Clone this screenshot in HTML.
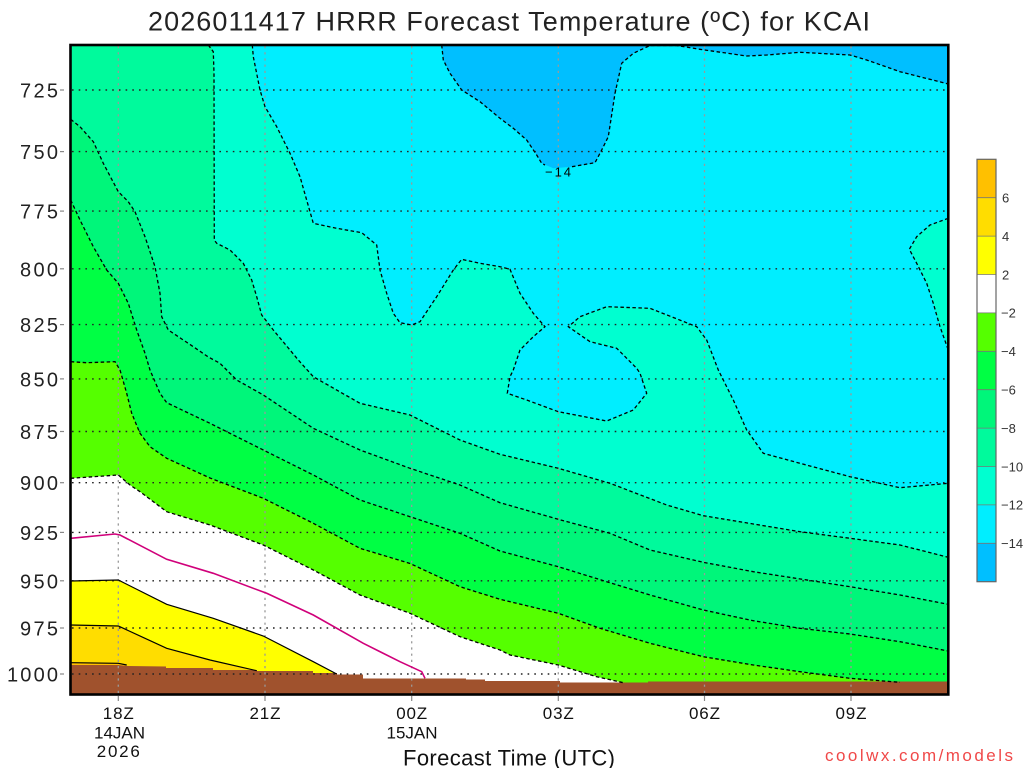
<!DOCTYPE html>
<html><head><meta charset="utf-8"><style>
html,body{margin:0;padding:0;background:#fff;}
svg{display:block;}
text{font-family:"Liberation Sans",sans-serif;}
</style></head><body>
<svg width="1024" height="768" viewBox="0 0 1024 768" xmlns="http://www.w3.org/2000/svg">
<rect x="0" y="0" width="1024" height="768" fill="#fff"/>
<defs><clipPath id="pc"><rect x="70" y="45" width="878.3" height="649"/></clipPath></defs>
<g clip-path="url(#pc)">
<!-- base cyan (-14..-12) -->
<rect x="70" y="45" width="880" height="650" fill="#00EEFF"/>
<!-- blue < -14 -->
<polygon fill="#00BFFF" points="441.7,45 443.3,60 450,73.3 461.7,90 480,101.7 500,118.3 513.3,128.3 526.7,140 536.7,155 541.7,163.3 553.3,168.3 571.7,166.7 595,162.7 601.7,150 608.3,136.7 615,93.3 621.7,63.3 633.3,53.3 650,45"/>
<polygon fill="#00BFFF" points="676.7,45 700,49.3 746.7,56 766.7,55 800,52.3 850,55 866.7,60 900,71.7 948.3,84 950,84 950,40 676.7,40"/>
<!-- teal -12..-10 -->
<polygon fill="#00FFD0" points="252.3,40 253.3,56.7 260,90 265,106.7 276.7,126.7 290,153.3 300,176.7 313.3,223.3 336.7,228.3 361.7,232.7 376.7,245 380,270 386.7,293.3 393.3,313.3 400,322.7 411.7,325 420,321.7 436.7,296.7 453.3,270 461.7,259.3 480,263.3 500,266.7 510,269.3 520,293.3 533.3,313.3 545,326.7 556,327.5 568.3,326.7 580,316.7 606.7,306.7 650,308.3 696.7,326.7 706.7,340 718.3,370 733.3,400 746.7,430 763.3,453.3 800,463.3 850,476.7 900,487.7 950,483.3 950,700 60,700 60,40"/>
<!-- cyan island loop -->
<polygon fill="#00EEFF" points="545,326.7 533.3,336.7 520,350 513.3,370 510,376.7 507.3,393.3 526.7,400 558.3,411.7 606.7,421 633.3,410 646.7,393.3 640,373.3 636.7,368.3 616.7,348.3 590,341.7 568.3,326.7 556,328.5"/>
<!-- right teal blob -->
<polygon fill="#00FFD0" points="950,218.3 930,225 916.7,236.7 909.3,249.3 916.7,263.3 926.7,283.3 933.3,303.3 940,326.7 950,352"/>
<!-- -10..-8 -->
<polygon fill="#00FA9C" points="208.3,40 213.3,51.7 214,73 214.3,240 216.7,243.3 230,250 243.3,263.3 251.7,280 256.7,296.7 261.7,315 273.3,330 290,350 298.3,360 313.3,376.7 360,403.3 410,415 460,440 500,454.3 558.3,468.3 610,483.3 666.7,505 703.3,515.7 800,531.7 850,538.3 900,545 950,557.3 950,700 60,700 60,40"/>
<!-- -8..-6 -->
<polygon fill="#00F67A" points="70.7,119.3 80,126.7 93.3,141.7 103.3,163.3 118.3,191.7 128.3,201.7 135,211.7 145,236.7 155,266.7 160,293.3 161.7,316.7 168.3,330 193.3,346.7 208.3,357 220,363.3 236.7,380 263.3,395 313.3,428.3 360,450 410,468.3 460,485 500,502.7 558.3,519.3 610,533.3 650,550 703.3,562.3 753.3,571.7 850,586.7 900,595 950,604.3 950,700 60,700 60,119.3"/>
<!-- -6..-4 -->
<polygon fill="#00FF44" points="70.7,200 80,220 93.3,246.7 106.7,270 118.3,283.3 128.3,303.3 136.7,330 145,353.3 150,370 160,393.3 166.7,402.7 210,423.3 263.3,450 313.3,475 360,500 410,516.7 460,533.3 500,551 558.3,566.7 606.7,581.7 650,595 703.3,610 753.3,620.7 800,628.3 850,634 900,641.7 950,651 950,700 60,700 60,200"/>
<!-- -4..-2 -->
<polygon fill="#55FF00" points="70.7,361.7 86.7,362.7 115,361.7 120,370 126.7,393.3 131.7,413.3 140,433.3 150,446.7 166.7,458.3 210,478 263.3,498.3 313.3,523.3 360,548.3 410,563.5 460,586.7 500,599.3 558.3,613.3 600,628.3 650,643.3 703.3,656.7 753.3,665 800,671.7 850,678.3 900,682.3 900,700 60,700 60,361.7"/>
<!-- white -2..2 -->
<polygon fill="#FFFFFF" points="70.7,478.3 118.3,475 130,485 140,491.7 166.7,511.7 210,525 263.3,545 313.3,570 360,595 410,613.3 460,636.7 500,650 510,655 558.3,665 596.7,676.7 623.3,682.7 623.3,700 60,700 60,478.3"/>
<!-- yellow -->
<polygon fill="#FFFF00" points="70.7,581 118.3,580 166.7,604.3 213.3,618.3 263.3,636 313.3,661.7 336.7,674 336.7,700 60,700 60,581"/>
<!-- gold -->
<polygon fill="#FFDD00" points="70.7,625 118.3,626 166.7,648.3 210,660 256.7,670.7 256.7,700 60,700 60,625"/>
<!-- orange -->
<polygon fill="#FFC000" points="70.7,662.7 118.3,663.3 126.7,665 126.7,700 60,700 60,662.7"/>
<!-- ground -->
<polygon fill="#A0522D" points="60,665 118,665 128,666 166,666.5 166,668 213,668 213,670 257,670 257,671 313,671 313,673 337,673 337,674.5 363,674.5 363,678.5 466,678.5 466,679.5 485,679.5 485,681 560,681 560,682.5 648,682.5 648,681.5 950,681.5 950,700 60,700"/>

<!-- grid: horizontal dotted -->
<g stroke="#222" stroke-width="1.4" stroke-dasharray="1.6 5.1" fill="none">
<line x1="72" y1="90" x2="948" y2="90"/>
<line x1="72" y1="151.6" x2="948" y2="151.6"/>
<line x1="72" y1="211.1" x2="948" y2="211.1"/>
<line x1="72" y1="268.8" x2="948" y2="268.8"/>
<line x1="72" y1="324.6" x2="948" y2="324.6"/>
<line x1="72" y1="378.9" x2="948" y2="378.9"/>
<line x1="72" y1="431.5" x2="948" y2="431.5"/>
<line x1="72" y1="482.7" x2="948" y2="482.7"/>
<line x1="72" y1="532.4" x2="948" y2="532.4"/>
<line x1="72" y1="580.8" x2="948" y2="580.8"/>
<line x1="72" y1="628" x2="948" y2="628"/>
<line x1="72" y1="674" x2="948" y2="674"/>
</g>
<g stroke="#999" stroke-width="1.3" stroke-dasharray="2.2 4" fill="none">
<line x1="118.3" y1="46" x2="118.3" y2="694"/>
<line x1="265" y1="46" x2="265" y2="694"/>
<line x1="411.7" y1="46" x2="411.7" y2="694"/>
<line x1="558.3" y1="46" x2="558.3" y2="694"/>
<line x1="704.5" y1="46" x2="704.5" y2="694"/>
<line x1="851" y1="46" x2="851" y2="694"/>
</g>

<!-- negative contours dashed -->
<g stroke="#000" stroke-width="1.3" stroke-dasharray="3.5 2.5" fill="none">
<polyline points="441.7,45 443.3,60 450,73.3 461.7,90 480,101.7 500,118.3 513.3,128.3 526.7,140 536.7,155 541.7,163.3 545,165"/>
<polyline points="572,166.7 595,162.7 601.7,150 608.3,136.7 615,93.3 621.7,63.3 633.3,53.3 650,45.5 676.7,45.5 700,49.3 746.7,56 766.7,55 800,52.3 850,55 866.7,60 900,71.7 948.3,84"/>
<polyline points="252.3,45 253.3,56.7 260,90 265,106.7 276.7,126.7 290,153.3 300,176.7 313.3,223.3 336.7,228.3 361.7,232.7 376.7,245 380,270 386.7,293.3 393.3,313.3 400,322.7 411.7,325 420,321.7 436.7,296.7 453.3,270 461.7,259.3 480,263.3 500,266.7 510,269.3 520,293.3 533.3,313.3 545,326.7 533.3,336.7 520,350 513.3,370 510,376.7 507.3,393.3 526.7,400 558.3,411.7 606.7,421 633.3,410 646.7,393.3 640,373.3 636.7,368.3 616.7,348.3 590,341.7 568.3,326.7 580,316.7 606.7,306.7 650,308.3 696.7,326.7 706.7,340 718.3,370 733.3,400 746.7,430 763.3,453.3 800,463.3 850,476.7 900,487.7 948.3,483.3"/>
<polyline points="948.3,218.3 930,225 916.7,236.7 909.3,249.3 916.7,263.3 926.7,283.3 933.3,303.3 940,326.7 948.3,350"/>
<polyline points="208.3,45 213.3,51.7 214,73 214.3,240 216.7,243.3 230,250 243.3,263.3 251.7,280 256.7,296.7 261.7,315 273.3,330 290,350 298.3,360 313.3,376.7 360,403.3 410,415 460,440 500,454.3 558.3,468.3 610,483.3 666.7,505 703.3,515.7 800,531.7 850,538.3 900,545 948.3,557.3"/>
<polyline points="70.7,119.3 80,126.7 93.3,141.7 103.3,163.3 118.3,191.7 128.3,201.7 135,211.7 145,236.7 155,266.7 160,293.3 161.7,316.7 168.3,330 193.3,346.7 208.3,357 220,363.3 236.7,380 263.3,395 313.3,428.3 360,450 410,468.3 460,485 500,502.7 558.3,519.3 610,533.3 650,550 703.3,562.3 753.3,571.7 850,586.7 900,595 948.3,604.3"/>
<polyline points="70.7,200 80,220 93.3,246.7 106.7,270 118.3,283.3 128.3,303.3 136.7,330 145,353.3 150,370 160,393.3 166.7,402.7 210,423.3 263.3,450 313.3,475 360,500 410,516.7 460,533.3 500,551 558.3,566.7 606.7,581.7 650,595 703.3,610 753.3,620.7 800,628.3 850,634 900,641.7 948.3,651"/>
<polyline points="70.7,361.7 86.7,362.7 115,361.7 120,370 126.7,393.3 131.7,413.3 140,433.3 150,446.7 166.7,458.3 210,478 263.3,498.3 313.3,523.3 360,548.3 410,563.5 460,586.7 500,599.3 558.3,613.3 600,628.3 650,643.3 703.3,656.7 753.3,665 800,671.7 850,678.3 900,682.3"/>
<polyline points="70.7,478.3 118.3,475 130,485 140,491.7 166.7,511.7 210,525 263.3,545 313.3,570 360,595 410,613.3 460,636.7 500,650 510,655 558.3,665 596.7,676.7 623.3,682.7"/>
</g>
<!-- zero line -->
<polyline fill="none" stroke="#D0007A" stroke-width="1.6" points="70.7,538.3 115,534 120,535 166.7,559.3 213.3,573.3 266.7,593.3 313.3,615 363.3,643.3 400,661.7 421.7,671.7 425,678.3"/>
<!-- positive contours solid -->
<g stroke="#000" stroke-width="1.2" fill="none">
<polyline points="70.7,581 118.3,580 166.7,604.3 213.3,618.3 263.3,636 313.3,661.7 336.7,674"/>
<polyline points="70.7,625 118.3,626 166.7,648.3 210,660 256.7,670.7"/>
<polyline points="70.7,662.7 118.3,663.3 126.7,665"/>
</g>
<text x="545" y="176.5" font-size="13" fill="#000" textLength="26">−14</text>
</g>
<!-- frame -->
<rect x="70.5" y="45" width="877.8" height="649.5" fill="none" stroke="#000" stroke-width="2.6"/>

<!-- y labels -->
<g font-size="20" fill="#222" text-anchor="end">
<text x="58" y="97.5" textLength="38">725</text>
<text x="58" y="159.1" textLength="38">750</text>
<text x="58" y="218.6" textLength="38">775</text>
<text x="58" y="276.3" textLength="38">800</text>
<text x="58" y="332.1" textLength="38">825</text>
<text x="58" y="386.4" textLength="38">850</text>
<text x="58" y="439" textLength="38">875</text>
<text x="58" y="490.2" textLength="38">900</text>
<text x="58" y="539.9" textLength="38">925</text>
<text x="58" y="588.3" textLength="38">950</text>
<text x="58" y="635.5" textLength="38">975</text>
<text x="58" y="681.5" textLength="51">1000</text>
</g>
<g stroke="#888" stroke-width="1.2">
<line x1="60" y1="90" x2="64" y2="90"/><line x1="60" y1="151.6" x2="64" y2="151.6"/><line x1="60" y1="211.1" x2="64" y2="211.1"/>
<line x1="60" y1="268.8" x2="64" y2="268.8"/><line x1="60" y1="324.6" x2="64" y2="324.6"/><line x1="60" y1="378.9" x2="64" y2="378.9"/>
<line x1="60" y1="431.5" x2="64" y2="431.5"/><line x1="60" y1="482.7" x2="64" y2="482.7"/><line x1="60" y1="532.4" x2="64" y2="532.4"/>
<line x1="60" y1="580.8" x2="64" y2="580.8"/><line x1="60" y1="628" x2="64" y2="628"/><line x1="60" y1="674" x2="64" y2="674"/>
<line x1="118.3" y1="696" x2="118.3" y2="701"/><line x1="265" y1="696" x2="265" y2="701"/><line x1="411.7" y1="696" x2="411.7" y2="701"/>
<line x1="558.3" y1="696" x2="558.3" y2="701"/><line x1="704.5" y1="696" x2="704.5" y2="701"/><line x1="851" y1="696" x2="851" y2="701"/>
</g>
<!-- x labels -->
<g font-size="17" fill="#111" text-anchor="middle">
<text x="118.3" y="719" textLength="31">18Z</text>
<text x="119.5" y="738.5" textLength="51">14JAN</text>
<text x="118.3" y="757" textLength="43">2026</text>
<text x="265" y="719" textLength="31">21Z</text>
<text x="411.7" y="719" textLength="31">00Z</text>
<text x="412" y="738.5" textLength="51">15JAN</text>
<text x="558.3" y="719" textLength="31">03Z</text>
<text x="704.5" y="719" textLength="31">06Z</text>
<text x="851" y="719" textLength="31">09Z</text>
</g>
<text x="403" y="765.5" font-size="22" fill="#111" textLength="212">Forecast Time (UTC)</text>
<text x="825" y="761" font-size="17" fill="#F04848" textLength="188">coolwx.com/models</text>
<!-- title -->
<text x="148" y="30.5" font-size="27" fill="#222" textLength="722">2026011417 HRRR Forecast Temperature (ºC) for KCAI</text>

<!-- colorbar -->
<g stroke="none">
<rect x="977" y="159.3" width="19" height="38.4" fill="#FFC000"/>
<rect x="977" y="197.7" width="19" height="38.4" fill="#FFDD00"/>
<rect x="977" y="236.1" width="19" height="38.4" fill="#FFFF00"/>
<rect x="977" y="274.5" width="19" height="38.4" fill="#FFFFFF"/>
<rect x="977" y="312.9" width="19" height="38.4" fill="#55FF00"/>
<rect x="977" y="351.3" width="19" height="38.4" fill="#00FF44"/>
<rect x="977" y="389.7" width="19" height="38.4" fill="#00F67A"/>
<rect x="977" y="428.1" width="19" height="38.4" fill="#00FA9C"/>
<rect x="977" y="466.5" width="19" height="38.4" fill="#00FFD0"/>
<rect x="977" y="504.9" width="19" height="38.4" fill="#00EEFF"/>
<rect x="977" y="543.3" width="19" height="38.4" fill="#00BFFF"/>
</g>
<g stroke="#777" stroke-width="0.8">
<line x1="977" y1="197.7" x2="996" y2="197.7"/><line x1="977" y1="236.1" x2="996" y2="236.1"/><line x1="977" y1="274.5" x2="996" y2="274.5"/>
<line x1="977" y1="312.9" x2="996" y2="312.9"/><line x1="977" y1="351.3" x2="996" y2="351.3"/><line x1="977" y1="389.7" x2="996" y2="389.7"/>
<line x1="977" y1="428.1" x2="996" y2="428.1"/><line x1="977" y1="466.5" x2="996" y2="466.5"/><line x1="977" y1="504.9" x2="996" y2="504.9"/>
<line x1="977" y1="543.3" x2="996" y2="543.3"/>
</g>
<rect x="977" y="159.3" width="19" height="422.4" fill="none" stroke="#666" stroke-width="1.2"/>
<g font-size="13" fill="#333">
<text x="1002" y="202.5">6</text>
<text x="1002" y="240.9">4</text>
<text x="1002" y="279.3">2</text>
<text x="1001" y="317.7">−2</text>
<text x="1001" y="356.1">−4</text>
<text x="1001" y="394.5">−6</text>
<text x="1001" y="432.9">−8</text>
<text x="1001" y="471.3">−10</text>
<text x="1001" y="509.7">−12</text>
<text x="1001" y="548.1">−14</text>
</g>
</svg>
</body></html>
